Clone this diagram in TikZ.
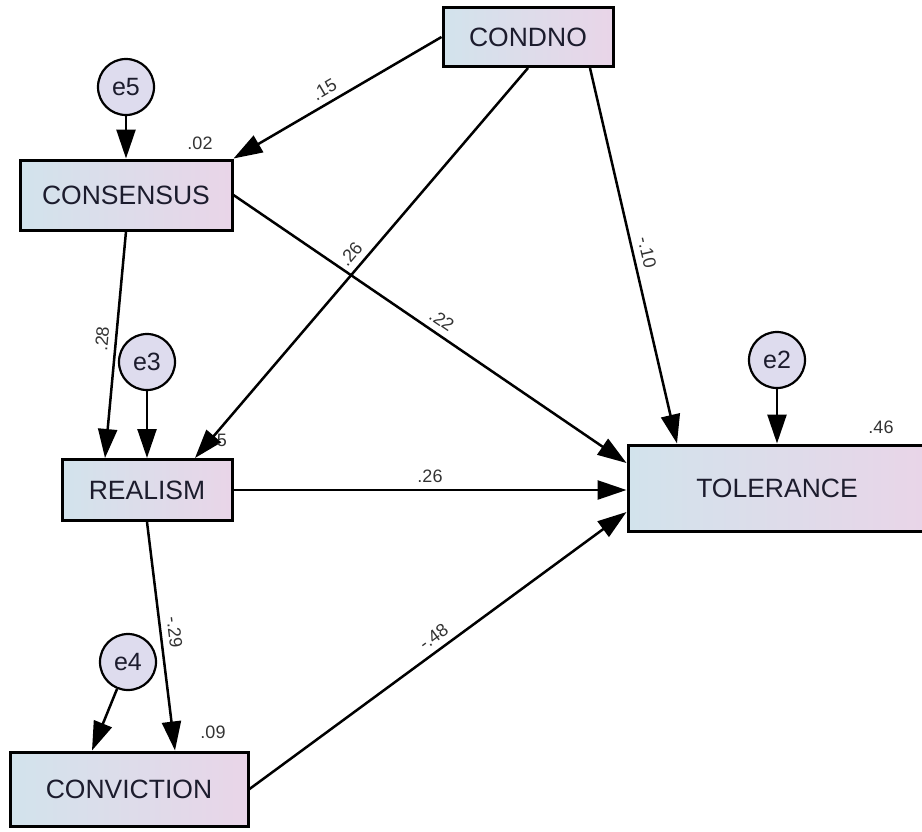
\documentclass[tikz,border=0pt]{standalone}
\usepackage{fontspec}
\setmainfont{Liberation Sans}
\usetikzlibrary{arrows.meta}

\definecolor{boxleft}{RGB}{210,227,236}
\definecolor{boxright}{RGB}{233,213,232}
\definecolor{errfill}{RGB}{222,220,238}
\definecolor{txt}{RGB}{28,28,45}

\tikzset{
  var/.style={draw,line width=3pt,left color=boxleft,right color=boxright,inner sep=0pt,text=txt,font=\fontsize{26.5}{31}\selectfont},
  err/.style={draw,circle,line width=2.2pt,fill=errfill,minimum size=56pt,inner sep=0pt,text=txt,font=\fontsize{25}{30}\selectfont},
  coef/.style={text=black!80,font=\fontsize{18}{21}\selectfont},
  reg/.style={line width=2.5pt,-{Triangle[length=29pt,width=19pt]}}
}

\begin{document}
\begin{tikzpicture}[x=1pt,y=-1pt]
  \useasboundingbox (0,0) rectangle (922,831);

  \node(condno)[var,minimum width=170pt,minimum height=59pt] at (528,37) {CONDNO};
  \node(consensus)[var,minimum width=212pt,minimum height=70pt] at (126,195) {CONSENSUS};
  \node(realism)[var,minimum width=170pt,minimum height=61pt] at (147,490) {REALISM};
  \node(conviction)[var,minimum width=238pt,minimum height=74pt] at (129,789) {CONVICTION};
  \node(tolerance)[var,minimum width=298pt,minimum height=86pt] at (777,488) {TOLERANCE};

  \node(e5)[err] at (126,87) {e5};
  \node(e3)[err] at (147,362) {e3};
  \node(e4)[err] at (128,662) {e4};
  \node(e2)[err] at (777,360) {e2};

  \draw[reg] (e5) -- (consensus);
  \draw[reg] (e3) -- (realism);
  \draw[reg] (e4) -- ([xshift=-37pt]conviction.north);
  \draw[reg] (e2) -- (tolerance);

  \draw[reg] (condno.west) -- (consensus.north east) node[coef,pos=0.53,sloped,above=3pt]{.15};
  \draw[reg] (condno.south) -- ([xshift=48pt]realism.north) node[coef,pos=0.5,sloped,above=3pt]{.26};
  \draw[reg] ([xshift=62pt]condno.south) -- ([xshift=-100pt]tolerance.north) node[coef,pos=0.5,sloped,above=3pt]{-.10};
  \draw[reg] (consensus.east) -- ([yshift=25pt]tolerance.west) node[coef,pos=0.51,sloped,above=3pt]{.22};
  \draw[reg] (consensus.south) -- ([xshift=-42pt]realism.north) node[coef,pos=0.48,sloped,above=3pt]{.28};
  \draw[reg] (realism.east) -- (realism.east -| tolerance.west) node[coef,pos=0.5,above=3pt]{.26};
  \draw[reg] (realism.south) -- ([xshift=46pt]conviction.north) node[coef,pos=0.49,sloped,above=3pt]{-.29};
  \draw[reg] (conviction.east) -- ([yshift=-24pt]tolerance.west) node[coef,pos=0.51,sloped,above=3pt]{-.48};

  \node(r2cons)[coef] at (200,143) {.02};
  \node(r2real)[coef] at (222,440) {5};
  \node(r2conv)[coef] at (213,732) {.09};
  \node(r2tol)[coef] at (881,427) {.46};
\end{tikzpicture}
\end{document}
